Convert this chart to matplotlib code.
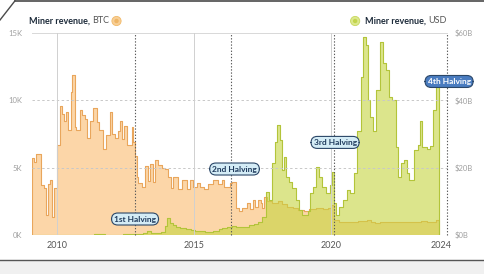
import matplotlib
matplotlib.use('Agg')
import matplotlib.pyplot as plt
from matplotlib.lines import Line2D
from matplotlib.patches import Rectangle, Circle

plt.rcParams['font.family'] = ['Lato', 'DejaVu Sans']

# step start (decimal year) and daily miner revenue in thousands of BTC
btc_years = [2009.09, 2009.17, 2009.24, 2009.43, 2009.51, 2009.61, 2009.67, 2009.73, 2009.82, 2009.89,
             2010.01, 2010.10, 2010.18, 2010.26, 2010.32, 2010.40, 2010.50, 2010.56, 2010.65, 2010.70,
             2010.84, 2010.92, 2011.02, 2011.11, 2011.20, 2011.30, 2011.46, 2011.55, 2011.69, 2011.79,
             2011.93, 2012.02, 2012.12, 2012.24, 2012.30, 2012.38, 2012.45, 2012.54, 2012.73, 2012.78,
             2012.86, 2012.91, 2012.97, 2013.09, 2013.21, 2013.33, 2013.39, 2013.49, 2013.58, 2013.70,
             2013.82, 2013.94, 2014.06, 2014.15, 2014.24, 2014.43, 2014.55, 2014.73, 2014.85, 2014.95,
             2015.10, 2015.22, 2015.36, 2015.52, 2015.70, 2015.89, 2016.01, 2016.09, 2016.31, 2016.40,
             2016.54, 2016.64, 2016.76, 2016.95, 2017.03, 2017.15, 2017.23, 2017.35, 2017.43, 2017.49,
             2017.55, 2017.65, 2017.85, 2018.05, 2018.20, 2018.40, 2018.60, 2018.80, 2019.00, 2019.20,
             2019.45, 2019.70, 2019.90, 2020.00, 2020.12, 2020.30, 2020.50, 2020.80, 2021.00, 2021.30,
             2021.45, 2021.60, 2021.80, 2022.00, 2022.30, 2022.60, 2022.80, 2023.00, 2023.30, 2023.50,
             2023.70, 2023.85]
btc_k = [5.7, 5.4, 6.0, 3.7, 3.5, 1.5, 3.8, 4.1, 1.3, 3.5,
         6.7, 9.6, 9.0, 8.5, 9.1, 7.8, 10.6, 11.9, 8.0, 7.8,
         9.3, 8.9, 8.6, 7.2, 8.5, 9.4, 8.4, 7.8, 6.4, 7.4,
         9.1, 7.5, 7.2, 7.7, 8.5, 7.1, 8.1, 6.7, 8.0, 6.9,
         5.9, 4.3, 3.85, 3.6, 5.1, 4.0, 5.3, 3.9, 5.55, 5.2,
         5.0, 4.9, 4.3, 3.5, 4.3, 3.4, 4.1, 3.4, 4.1, 3.6,
         3.85, 3.6, 3.4, 3.8, 4.1, 3.8, 4.1, 3.6, 3.85, 3.95,
         2.0, 1.8, 2.0, 2.4, 1.9, 2.6, 2.1, 2.6, 2.4, 2.0,
         2.8, 2.5, 2.4, 2.5, 2.3, 2.1, 2.0, 1.85, 1.8, 1.9,
         2.0, 1.9, 2.0, 2.2, 1.1, 0.95, 0.98, 1.0, 1.05, 1.1,
         0.95, 0.9, 1.0, 0.95, 0.97, 0.93, 1.0, 0.98, 1.05, 0.98,
         1.0, 1.08]

# step start (decimal year) and daily miner revenue in USD (axis units $B)
usd_years = [2009.09, 2010.84, 2011.35, 2011.50, 2011.75, 2012.00, 2012.40, 2012.70, 2012.90, 2013.15,
             2013.30, 2013.42, 2013.60, 2013.80, 2013.95, 2014.03, 2014.12, 2014.22, 2014.35, 2014.50,
             2014.70, 2014.90, 2015.05, 2015.40, 2015.70, 2015.90, 2016.02, 2016.20, 2016.40, 2016.55,
             2016.80, 2017.00, 2017.20, 2017.35, 2017.49, 2017.62, 2017.74, 2017.86, 2017.96, 2018.04,
             2018.13, 2018.20, 2018.28, 2018.37, 2018.47, 2018.59, 2018.71, 2018.84, 2018.95, 2019.15,
             2019.25, 2019.35, 2019.45, 2019.57, 2019.68, 2019.80, 2019.95, 2020.02, 2020.12, 2020.20,
             2020.30, 2020.45, 2020.60, 2020.70, 2020.85, 2020.95, 2021.08, 2021.17, 2021.27, 2021.36,
             2021.43, 2021.52, 2021.65, 2021.78, 2021.88, 2022.00, 2022.10, 2022.22, 2022.36, 2022.46,
             2022.55, 2022.67, 2022.76, 2022.86, 2023.03, 2023.16, 2023.24, 2023.33, 2023.50, 2023.60,
             2023.73, 2023.85]
usd_b = [0.0, 0.08, 0.35, 0.2, 0.1, 0.12, 0.2, 0.3, 0.25, 0.5,
         1.1, 0.7, 0.55, 1.0, 2.6, 5.0, 3.6, 3.0, 2.4, 2.0,
         1.7, 1.4, 1.1, 1.0, 1.3, 1.8, 2.2, 2.5, 2.7, 2.3,
         2.5, 3.0, 3.2, 3.8, 5.4, 12.9, 10.4, 21.4, 27.7, 32.7,
         28.2, 19.3, 23.3, 17.3, 15.8, 14.0, 10.5, 7.4, 6.0, 7.0,
         12.5, 14.4, 20.3, 17.3, 14.4, 12.5, 15.0, 18.8, 9.5, 6.0,
         8.4, 10.4, 13.4, 12.5, 18.4, 31.0, 47.0, 58.9, 56.4, 40.0,
         35.0, 31.0, 43.0, 57.4, 51.0, 49.0, 41.0, 40.0, 26.0, 17.3,
         21.4, 22.3, 18.4, 16.3, 25.2, 26.7, 34.0, 26.2, 25.5, 26.5,
         37.0, 44.0]

end_year = 2023.95

halving_years = [2012.85, 2016.35, 2020.11, 2024.22]
halving_labels = ['1st Halving', '2nd Halving', '3rd Halving', '4th Halving']
halving_label_x = [2012.85, 2016.48, 2020.15, 2024.31]
halving_label_y = [4.75, 19.6, 27.5, 45.6]  # in $B axis units

year_ticks = [2010, 2015, 2020, 2024]
btc_ticks = [0, 5, 10, 15]
btc_tick_labels = ['0K', '5K', '10K', '15K']
usd_ticks = [0, 20, 40, 60]
usd_tick_labels = ['$0B', '$20B', '$40B', '$60B']


def step_outline(years, vals):
    xs = [years[0]] + list(years) + [end_year, end_year]
    ys = [0] + list(vals) + [vals[-1], 0]
    return xs, ys


W, H = 485, 274
fig = plt.figure(figsize=(W / 100, H / 100), dpi=100)
ax = fig.add_axes([32 / W, 1 - 235 / H, 416 / W, 202 / H])
ax2 = ax.twinx()

bx, by = step_outline(btc_years, btc_k)
ax.fill_between(bx, by, step='post', color='#fcd6a8', lw=0, zorder=1)
ax.step(bx, by, where='post', color='#e9a65c', lw=0.8, zorder=2)

ux, uy = step_outline(usd_years, usd_b)
ax2.fill_between(ux, uy, step='post', color='#c6d53f', alpha=0.6, lw=0, zorder=1)
ax2.step(ux, uy, where='post', color='#b3c43a', lw=0.8, zorder=2)

ax.set_xlim(2009.09, 2024.27)
ax.set_ylim(0, 15)
ax2.set_ylim(0, 60)

# grid on top of the areas
for v in [20, 40]:
    ax2.axhline(v, color='#c8c8c8', lw=0.7, ls=(0, (2.5, 2.5)), zorder=5)
ax2.axhline(60, color='#d8d8d8', lw=0.7, zorder=5)
for yr in [2010, 2015, 2020]:
    ax2.axvline(yr, color='#d0d0d0', lw=0.7, zorder=5)
for yr in halving_years:
    ax2.axvline(yr, color='#5a5a5a', lw=0.8, ls=(0, (1.2, 1.6)), zorder=6, clip_on=False)

for i, lab in enumerate(halving_labels):
    last = i == len(halving_labels) - 1
    ax2.text(halving_label_x[i], halving_label_y[i], lab, ha='center', va='center',
             fontsize=6, fontweight='bold', color='white' if last else '#1f3a5c', zorder=8,
             bbox=dict(boxstyle='round,pad=0.3,rounding_size=0.75',
                       fc='#4a7cc0' if last else '#d4ecf6', ec='#2b4768', lw=0.8))

for a in (ax, ax2):
    for s in a.spines.values():
        s.set_visible(False)

ax.set_xticks(year_ticks)
ax.set_xticklabels([str(y) for y in year_ticks])
ax.set_yticks(btc_ticks)
ax.set_yticklabels(btc_tick_labels)
ax2.set_yticks(usd_ticks)
ax2.set_yticklabels(usd_tick_labels)
ax.tick_params(axis='x', length=0, pad=4, labelsize=6.5, labelcolor='#555555')
ax.tick_params(axis='y', length=0, pad=7, labelsize=5.5, labelcolor='#a0a0a0')
ax2.tick_params(axis='y', length=0, pad=5, labelsize=5.5, labelcolor='#a0a0a0')

# legend headers
fig.canvas.draw()
r = fig.canvas.get_renderer()
t1 = fig.text(29 / W, 1 - 20.7 / H, 'Miner revenue,', fontsize=6.5, fontweight='bold',
              color='#1d2b3a', va='center')
ext = t1.get_window_extent(r)
t2 = fig.text(ext.x1 / W + 2.5 / W, 1 - 20.7 / H, 'BTC', fontsize=6.5, color='#555555', va='center')
ext2 = t2.get_window_extent(r)
fig.add_artist(Circle((ext2.x1 + 7, H - 21), 4.6, transform=None, fc='#f8cf96', ec='#f1b968', lw=0.6))
fig.add_artist(Circle((ext2.x1 + 7, H - 21), 2.2, transform=None, fc='#eeb565', ec='none'))

t4 = fig.text(447 / W, 1 - 20.7 / H, 'USD', fontsize=6.5, color='#555555', va='center', ha='right')
ext4 = t4.get_window_extent(r)
t3 = fig.text(ext4.x0 / W - 2.5 / W, 1 - 20.7 / H, 'Miner revenue,', fontsize=6.5, fontweight='bold',
              color='#1d2b3a', va='center', ha='right')
ext3 = t3.get_window_extent(r)
fig.add_artist(Circle((ext3.x0 - 10, H - 21), 4.6, transform=None, fc='#dce88e', ec='#c8d85a', lw=0.6))
fig.add_artist(Circle((ext3.x0 - 10, H - 21), 2.2, transform=None, fc='#c2d44c', ec='none'))

# card frame
fig.add_artist(Line2D([15 / W, 1], [1 - 0.8 / H, 1 - 0.8 / H], color='#4a4a4a', lw=1.2))
fig.add_artist(Line2D([0, 15 / W], [1 - 20 / H, 1 - 0.8 / H], color='#4a4a4a', lw=1.0))
fig.add_artist(Rectangle((0, 0), 1, 13 / H, color='#f0f0f0', lw=0))
fig.add_artist(Line2D([0, 1], [14 / H, 14 / H], color='#555555', lw=1.0))

fig.savefig('out.png', dpi=100)
